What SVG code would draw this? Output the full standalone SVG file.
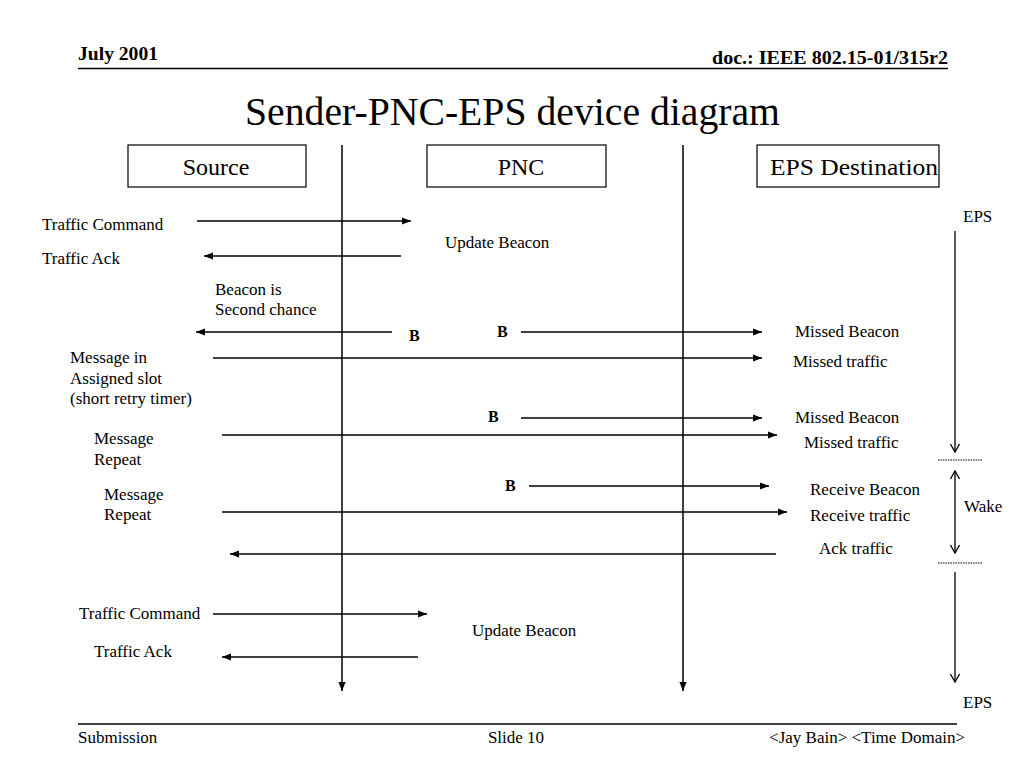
<svg xmlns="http://www.w3.org/2000/svg" width="1024" height="768" viewBox="0 0 1024 768">
<style>
text{font-family:"Liberation Serif","Times New Roman",serif;fill:#000}
.l{font-size:17px}
.b{font-size:16px;font-weight:bold}
.h{font-size:19px;font-weight:bold}
.n{font-size:24px}
.box{fill:#fff;stroke:#000;stroke-width:1.2}
.ar{stroke:#000;stroke-width:1.5;fill:none;marker-end:url(#ah)}
.op{stroke:#000;stroke-width:1.3;fill:none;marker-end:url(#oh)}
.dt{stroke:#000;stroke-width:1;stroke-dasharray:1.5 1}
</style>
<defs>
<marker id="ah" viewBox="0 0 10 10" refX="10" refY="5" markerWidth="9" markerHeight="9" markerUnits="userSpaceOnUse" orient="auto"><path d="M0,1 L10,5 L0,9 Z" fill="#000"/></marker>
<marker id="oh" viewBox="0 0 10 10" refX="9" refY="5" markerWidth="10" markerHeight="10" markerUnits="userSpaceOnUse" orient="auto"><path d="M1,0.5 L9,5 L1,9.5" fill="none" stroke="#000" stroke-width="1.3"/></marker>
</defs>
<rect width="1024" height="768" fill="#fff"/>
<g id="header">
<text x="78" y="60" class="h" textLength="80" lengthAdjust="spacingAndGlyphs">July 2001</text>
<text x="712" y="64" class="h" textLength="236" lengthAdjust="spacingAndGlyphs">doc.: IEEE 802.15-01/315r2</text>
<line x1="78" y1="68.5" x2="948" y2="68.5" stroke="#000" stroke-width="1.5"/>
<text x="245" y="125" font-size="40" textLength="535" lengthAdjust="spacingAndGlyphs">Sender-PNC-EPS device diagram</text>
</g>
<g id="footer">
<line x1="78" y1="724" x2="957" y2="724" stroke="#000" stroke-width="1.5"/>
<text x="78" y="743" class="l">Submission</text>
<text x="516" y="743" class="l" text-anchor="middle">Slide 10</text>
<text x="965" y="743" class="l" text-anchor="end">&lt;Jay Bain&gt; &lt;Time Domain&gt;</text>
</g>
<g id="source"><rect class="box" x="128" y="145" width="178" height="42"/><text x="216" y="175" class="n" text-anchor="middle">Source</text></g>
<g id="pnc"><rect class="box" x="427" y="145" width="179" height="42"/><text x="521" y="175" class="n" text-anchor="middle">PNC</text></g>
<g id="eps-destination"><rect class="box" x="757" y="145" width="182" height="42"/><text x="770" y="175" class="n" textLength="168" lengthAdjust="spacingAndGlyphs">EPS Destination</text></g>
<g id="connectors">
<line class="ar" x1="342" y1="145" x2="342" y2="691"/>
<line class="ar" x1="683" y1="145" x2="683" y2="691"/>
<line class="ar" x1="197" y1="221" x2="411" y2="221"/>
<line class="ar" x1="401" y1="256" x2="204" y2="256"/>
<line class="ar" x1="392" y1="332" x2="196" y2="332"/>
<line class="ar" x1="521" y1="332" x2="762" y2="332"/>
<line class="ar" x1="213" y1="358" x2="762" y2="358"/>
<line class="ar" x1="521" y1="418" x2="762" y2="418"/>
<line class="ar" x1="222" y1="435" x2="777" y2="435"/>
<line class="ar" x1="529" y1="486" x2="769" y2="486"/>
<line class="ar" x1="222" y1="512" x2="787" y2="512"/>
<line class="ar" x1="776" y1="554" x2="230" y2="554"/>
<line class="ar" x1="213" y1="614" x2="427" y2="614"/>
<line class="ar" x1="418" y1="657" x2="222" y2="657"/>
<line class="op" x1="955" y1="231" x2="955" y2="452"/>
<line class="dt" x1="938" y1="460" x2="982" y2="460"/>
<line class="op" x1="955" y1="512" x2="955" y2="471"/>
<line class="op" x1="955" y1="512" x2="955" y2="553"/>
<line class="dt" x1="938" y1="563" x2="982" y2="563"/>
<line class="op" x1="955" y1="572" x2="955" y2="682"/>
</g>
<g id="labels">
<text x="42" y="230" class="l">Traffic Command</text>
<text x="42" y="264" class="l">Traffic Ack</text>
<text x="445" y="248" class="l">Update Beacon</text>
<text x="215" y="295" class="l">Beacon is</text>
<text x="215" y="315" class="l">Second chance</text>
<text x="409" y="341" class="b">B</text>
<text x="497" y="337" class="b">B</text>
<text x="70" y="363" class="l">Message in</text>
<text x="70" y="384" class="l">Assigned slot</text>
<text x="70" y="404" class="l">(short retry timer)</text>
<text x="488" y="422" class="b">B</text>
<text x="94" y="444" class="l">Message</text>
<text x="94" y="465" class="l">Repeat</text>
<text x="505" y="491" class="b">B</text>
<text x="104" y="500" class="l">Message</text>
<text x="104" y="520" class="l">Repeat</text>
<text x="795" y="337" class="l">Missed Beacon</text>
<text x="793" y="367" class="l">Missed traffic</text>
<text x="795" y="423" class="l">Missed Beacon</text>
<text x="804" y="448" class="l">Missed traffic</text>
<text x="810" y="495" class="l">Receive Beacon</text>
<text x="810" y="521" class="l">Receive traffic</text>
<text x="819" y="554" class="l">Ack traffic</text>
<text x="79" y="619" class="l">Traffic Command</text>
<text x="94" y="657" class="l">Traffic Ack</text>
<text x="472" y="636" class="l">Update Beacon</text>
<text x="963" y="222" class="l">EPS</text>
<text x="964" y="512" class="l">Wake</text>
<text x="963" y="708" class="l">EPS</text>
</g>
</svg>
